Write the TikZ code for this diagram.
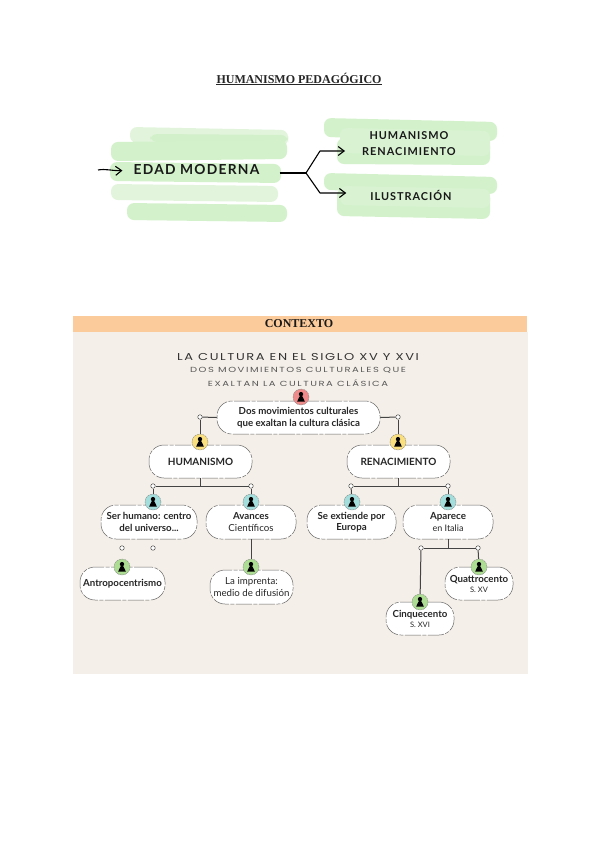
\documentclass[tikz,border=0pt]{standalone}
\usepackage{fontspec}
\setmainfont{Lato}
\newfontfamily\titlef{Liberation Serif}
\newfontfamily\wideA[FakeStretch=1.3,LetterSpace=16]{Poppins}
\newfontfamily\wideB[FakeStretch=1.35,LetterSpace=21]{Poppins}
\newfontfamily\wideC[LetterSpace=9,BoldFont={Lato Bold}]{Lato}
\usetikzlibrary{arrows.meta,positioning,calc}
\definecolor{panelbg}{HTML}{F4EFE8}
\definecolor{panelhead}{HTML}{FBCB9C}
\definecolor{brushA}{HTML}{D3F2CB}
\definecolor{brushB}{HTML}{BFE9B4}
\definecolor{brushC}{HTML}{E2F5DC}
\definecolor{badgered}{HTML}{EE8A8A}
\definecolor{badgeyel}{HTML}{FADF7E}
\definecolor{badgeblue}{HTML}{A3DEDC}
\definecolor{badgegreen}{HTML}{ACDD92}
\definecolor{linegray}{HTML}{444444}
\tikzset{
  x=1pt,y=-1pt,
  idea/.style={draw=black!60,line width=.5pt,dash pattern=on 16pt off 1.5pt on 4pt off 1.5pt,fill=white,rounded corners=15pt,
    align=center,inner sep=0pt,font=\fontsize{9.7}{11.5}\selectfont\bfseries,text=black!85},
  idealight/.style={idea,font=\fontsize{9.7}{12}\selectfont},
  badge/.style={circle,draw=black!45,line width=.4pt,dash pattern=on 2pt off .7pt,minimum size=16pt,inner sep=0pt},
  tiny/.style={circle,draw=black!70,fill=white,line width=.5pt,minimum size=4.5pt,inner sep=0pt},
  link/.style={draw=linegray,line width=1pt},
  hand/.style={draw=black,line width=1.1pt,line join=round,-{Straight Barb[length=6pt,width=9pt,line width=1.1pt]}},
  handtext/.style={font=\fontsize{10.9}{16}\selectfont\wideC\bfseries,align=center,text=black!90,inner sep=0pt},
}
\newcommand{\brush}[6]{%
  \fill[#6,rounded corners=7pt] (#1,#2) -- (#3,#2+#5) -- (#3,#4) -- (#1,#4-#5) -- cycle;}
\newcommand{\person}[1]{%
  \begin{scope}[shift={(#1)}]
  \fill[black] (0,-2.9) circle (2.2);
  \fill[black] (-3.8,4.6) .. controls (-3.8,2) and (-1.4,1.2) .. (-1.2,-0.8) -- (1.2,-0.8) .. controls (1.4,1.2) and (3.8,2) .. (3.8,4.6) -- cycle;
  \end{scope}}
\begin{document}
\begin{tikzpicture}
\useasboundingbox (0,0) rectangle (600,848);
\fill[white] (0,0) rectangle (600,848);

% title
\node[inner sep=0pt,font=\fontsize{12}{13}\selectfont\titlef\bfseries,text=black!85] (title) at (299,78) {HUMANISMO PEDAGÓGICO};
\draw[line width=.8pt,black!85] ($(title.south west)+(0,1.2)$) -- ($(title.south east)+(0,1.2)$);

% brush strokes, left
\brush{130}{127}{288}{146}{3}{brushC}
\brush{150}{134}{288}{143}{1}{brushB!70!white}
\brush{111}{142}{287}{159}{-2}{brushA}
\brush{110}{162}{281}{183}{2}{brushA}
\brush{111}{184}{278}{202}{2}{brushC}
\brush{127}{203}{287}{222}{2}{brushA}
% brush strokes, right
\brush{324}{118}{497}{141}{4}{brushA}
\brush{337}{138}{490}{165}{1}{brushA}
\brush{340}{128}{490}{156}{3}{brushB!60!white}
\brush{324}{173}{497}{194}{4}{brushA}
\brush{337}{188}{490}{219}{3}{brushA}
\brush{340}{186}{490}{208}{3}{brushB!60!white}

% top labels
\node[handtext,font=\fontsize{13.8}{15}\selectfont\wideC\bfseries] (edad) at (196.5,170) {EDAD MODERNA};
\node[handtext] (hr) at (409,144) {HUMANISMO\\RENACIMIENTO};
\node[handtext] (il) at (411,195) {ILUSTRACIÓN};
\coordinate (instart) at (98,170);
\coordinate (fork) at (306,173);
\coordinate (upbend) at (320,151);
\coordinate (lowbend) at (320,193);
\draw[hand,shorten >=11pt] (instart) .. controls (106,168.5) and (112,171) .. (edad.west);
\draw[draw=black,line width=1.1pt,shorten <=20pt] (edad.east |- fork) -- (fork);
\draw[hand,shorten >=17pt] (fork) -- (upbend) -- (hr.west |- upbend);
\draw[hand,shorten >=24pt] (fork) -- (lowbend) -- (il.west |- lowbend);

% panel
\fill[panelbg] (73,332) rectangle (528,674);
\fill[panelhead] (73,316) rectangle (527,332);
\node[font=\fontsize{12}{13}\selectfont\titlef\bfseries,text=black!90,inner sep=0pt] (ctx) at (299,324) {CONTEXTO};
\node[font=\fontsize{10}{11}\selectfont\wideA,text=black!80,inner sep=0pt] (h1) at (298,357) {LA CULTURA EN EL SIGLO XV Y XVI};
\node[font=\fontsize{7.4}{11}\selectfont\wideB,text=black!65,inner sep=0pt] (h2) at (298,370) {DOS MOVIMIENTOS CULTURALES QUE};
\node[font=\fontsize{7.4}{11}\selectfont\wideB,text=black!65,inner sep=0pt] (h3) at (298,383) {EXALTAN LA CULTURA CLÁSICA};

% junction dots
\node[tiny] (jh) at (200,417) {};
\node[tiny] (jr) at (398,417) {};
\node[tiny] (j1) at (153,486) {};
\node[tiny] (j2) at (251,486) {};
\node[tiny] (j3) at (351,486) {};
\node[tiny] (j4) at (448,486) {};
\node[tiny] (j5) at (122,548) {};
\node[tiny] (j6) at (153,548) {};
\node[tiny] (j7) at (421,548) {};
\node[tiny] (j8) at (478,548) {};

% idea nodes
\node[idea,minimum width=163pt,minimum height=33pt] (root) at (298.5,417.5) {Dos movimientos culturales\\que exaltan la cultura clásica};
\node[idea,minimum width=103pt,minimum height=33pt,font=\fontsize{10}{12}\selectfont\bfseries] (hum) at (200.5,461.5) {HUMANISMO};
\node[idea,minimum width=103pt,minimum height=33pt,font=\fontsize{10}{12}\selectfont\bfseries] (ren) at (398.5,461.5) {RENACIMIENTO};
\node[idea,minimum width=96pt,minimum height=34pt] (ser) at (149,522) {Ser humano: centro\\del universo...};
\node[idealight,minimum width=90pt,minimum height=34pt] (ava) at (251,522) {\textbf{Avances}\\Científicos};
\node[idea,minimum width=89pt,minimum height=34pt] (ext) at (351.5,522) {Se extiende por\\Europa};
\node[idealight,minimum width=90pt,minimum height=34pt,font=\fontsize{9}{12}\selectfont] (apa) at (448,522) {{\fontsize{9.8}{12}\selectfont\bfseries Aparece}\\en Italia};
\node[idea,minimum width=85pt,minimum height=33pt] (ant) at (122.5,583.5) {Antropocentrismo};
\node[idealight,minimum width=83pt,minimum height=34pt] (imp) at (251.5,587) {La imprenta:\\medio de difusión};
\node[idea,minimum width=68pt,minimum height=33pt,font=\fontsize{7.5}{10}\selectfont] (qua) at (479,583.5) {{\fontsize{9.7}{11}\selectfont\bfseries Quattrocento}\\S. XV};
\node[idea,minimum width=68pt,minimum height=33pt,font=\fontsize{7.5}{10}\selectfont] (cin) at (420,618.5) {{\fontsize{9.7}{11}\selectfont\bfseries Cinquecento}\\S. XVI};

% badges
\node[badge,fill=badgered] (broot) at (301,397) {};
\node[badge,fill=badgeyel] (bhum) at (200,442) {};
\node[badge,fill=badgeyel] (bren) at (398,442) {};
\node[badge,fill=badgeblue] (bser) at (153,502) {};
\node[badge,fill=badgeblue] (bava) at (251,502) {};
\node[badge,fill=badgeblue] (bext) at (352,502) {};
\node[badge,fill=badgeblue] (bapa) at (448,502) {};
\node[badge,fill=badgegreen] (bant) at (122,567) {};
\node[badge,fill=badgegreen] (bimp) at (251,567) {};
\node[badge,fill=badgegreen] (bqua) at (479,567) {};
\node[badge,fill=badgegreen] (bcin) at (420,602) {};
\foreach \b in {broot,bhum,bren,bser,bava,bext,bapa,bant,bimp,bqua,bcin}{\person{\b}}

% connectors
\draw[link] (root.west) -- (jh);
\draw[link] (root.east) -- (jr);
\draw[link] (jh) -- (bhum);
\draw[link] (jr) -- (bren);
\draw[link] (hum.south) -- (hum.south |- j1);
\draw[link] (j1) -- (j2);
\draw[link] (ren.south) -- (ren.south |- j3);
\draw[link] (j3) -- (j4);
\draw[link] (j1) -- (bser);
\draw[link] (j2) -- (bava);
\draw[link] (j3) -- (bext);
\draw[link] (j4) -- (bapa);
\draw[link] (ava.south) -- (bimp);
\draw[link] (apa.south) -- (apa.south |- j7);
\draw[link] (j7) -- (j8);
\draw[link] (j7) -- (bcin);
\draw[link] (j8) -- (bqua);
\end{tikzpicture}
\end{document}
